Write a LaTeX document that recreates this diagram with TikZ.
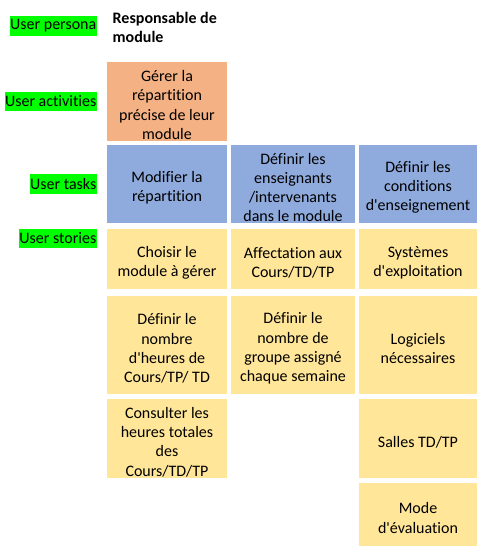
\documentclass[tikz,border=0pt]{standalone}
\usepackage{fontspec}
\setmainfont{Carlito}[Ligatures={TeXOff,NoCommon}]
\definecolor{actorange}{HTML}{F4B183}
\definecolor{taskblue}{HTML}{8FAADC}
\definecolor{storyyellow}{HTML}{FFE699}
\definecolor{hlgreen}{HTML}{00FF00}
\tikzset{
  txt/.style={font=\fontsize{16}{19.3}\selectfont, align=center, inner sep=0pt},
  boxbase/.style={inner sep=0pt},
  actbox/.style={boxbase, fill=actorange},
  taskbox/.style={boxbase, fill=taskblue},
  storybox/.style={boxbase, fill=storyyellow},
  lbl/.style={font=\fontsize{16}{19.3}\selectfont, fill=hlgreen, anchor=east, inner xsep=0.5pt, inner ysep=0pt, minimum height=19.5pt}
}
% \cell{name}{style}{x}{y}{width}{height}{text}
\newcommand{\cell}[7]{%
  \node[#2, minimum width=#5pt, minimum height=#6pt] (#1) at (#3,#4) {};
  \node[txt, yshift=-3.5pt] (#1-t) at (#1.center) {#7};
}
\begin{document}
\begin{tikzpicture}[x=1pt, y=-1pt]
\useasboundingbox[fill=white] (0,0) rectangle (494,556);
% row labels
\node[lbl] (lpersona) at (97,26) {User persona};
\node[lbl] (lact) at (97,101.5) {User activities};
\node[lbl] (ltask) at (97,184) {User tasks};
\node[lbl] (lstory) at (97,238.5) {User stories};
% persona
\node[font=\fontsize{16}{19.3}\selectfont\bfseries, align=left, anchor=west, inner sep=0pt] (persona) at (112.5,27.5) {Responsable de\\module};
% activity
\cell{act}{actbox}{167}{101.5}{120}{79}{Gérer la\\répartition\\précise de leur\\module}
% tasks
\cell{t1}{taskbox}{167}{184}{120}{78}{Modifier la\\répartition}
\cell{t2}{taskbox}{293}{184}{124}{78}{Définir les\\enseignants\\/intervenants\\dans le module}
\cell{t3}{taskbox}{418}{184}{118}{78}{Définir les\\conditions\\d'enseignement}
% stories row 1
\cell{s11}{storybox}{167}{259}{120}{60}{Choisir le\\module à gérer}
\cell{s12}{storybox}{293}{259}{124}{60}{Affectation aux\\Cours/TD/TP}
\cell{s13}{storybox}{418}{259}{118}{60}{Systèmes\\d'exploitation}
% stories row 2
\cell{s21}{storybox}{167}{345}{120}{98}{Définir le\\nombre\\d'heures de\\Cours/TP/ TD}
\cell{s22}{storybox}{293}{345}{124}{98}{Définir le\\nombre de\\groupe assigné\\chaque semaine}
\cell{s23}{storybox}{418}{345}{118}{98}{Logiciels\\nécessaires}
% stories row 3
\cell{s31}{storybox}{167}{438.5}{120}{79}{Consulter les\\heures totales\\des\\Cours/TD/TP}
\cell{s33}{storybox}{418}{438.5}{118}{79}{Salles TD/TP}
% stories row 4
\cell{s43}{storybox}{418}{514.5}{118}{63}{Mode\\d'évaluation}
\end{tikzpicture}
\end{document}
